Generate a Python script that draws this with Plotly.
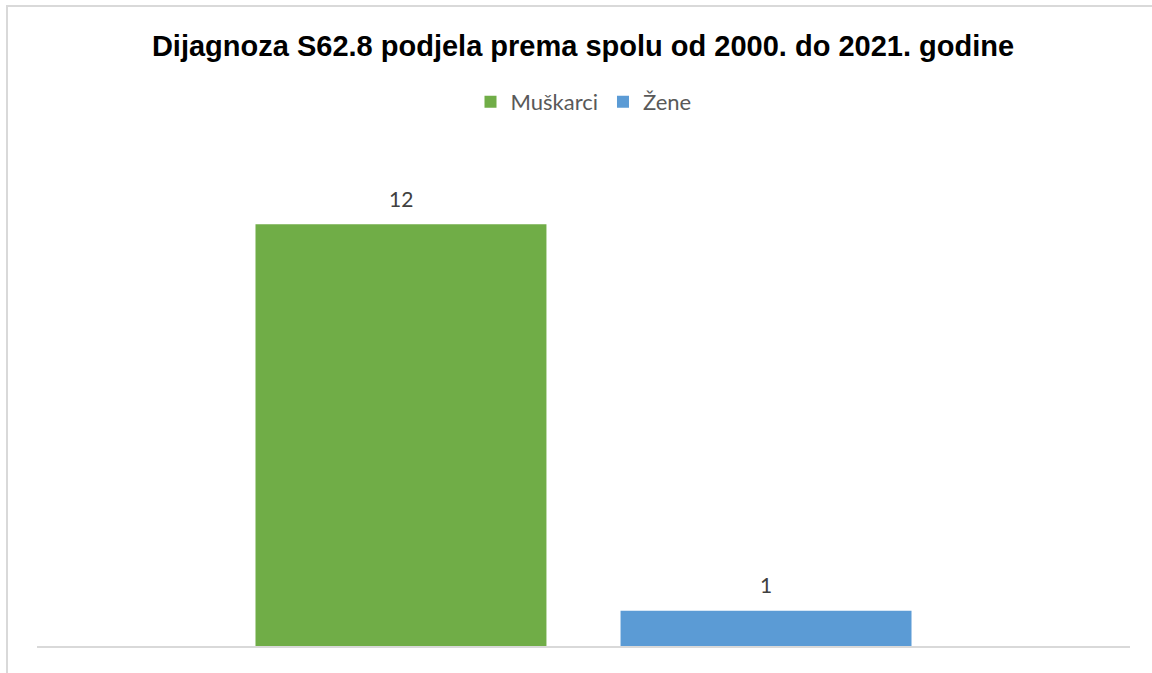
import plotly.graph_objects as go

categories = ["Ukupno"]
series_names = ["Muškarci", "Žene"]
muskarci = [12]
zene = [1]
colors = ["#70AD47", "#5B9BD5"]

LABEL_FONT = dict(family="Lato, Carlito, Calibri, sans-serif", size=21, color="#404040")

fig = go.Figure()
for name, vals, col in zip(series_names, [muskarci, zene], colors):
    fig.add_trace(go.Bar(
        x=categories, y=vals, name=name, marker_color=col, marker_line_width=0,
    ))

# data labels above each bar (bar centres are half a slot left/right of the category centre)
slot_px = 182.5
for i, vals in enumerate([muskarci, zene]):
    for c, v in zip(categories, vals):
        fig.add_annotation(x=c, y=v, text=str(v), showarrow=False,
                           xshift=(-1 if i == 0 else 1) * slot_px, yshift=26,
                           yanchor="middle", font=LABEL_FONT)

fig.update_layout(
    width=1152, height=673,
    paper_bgcolor="white", plot_bgcolor="white",
    margin=dict(l=37, r=22, t=154, b=27),
    barmode="group", bargap=0.332, bargroupgap=0.203,
    title=dict(
        text="<b>Dijagnoza S62.8 podjela prema spolu od 2000. do 2021. godine</b>",
        x=583/1152, xanchor="center", y=1-46/673, yanchor="middle", yref="container",
        font=dict(family="Liberation Sans, Arial, sans-serif", size=29, color="black"),
    ),
    legend=dict(
        orientation="h", x=0.5, xanchor="center", y=(646-102)/492, yanchor="middle",
        font=dict(family="Lato, Carlito, Calibri, sans-serif", size=22, color="#595959"),
        traceorder="normal",
    ),
    showlegend=True,
    hovermode=False,
    xaxis=dict(showticklabels=False, showgrid=False, zeroline=False,
               showline=True, linecolor="#D9D9D9", linewidth=2, ticks=""),
    yaxis=dict(range=[0, 14], visible=False),
    shapes=[dict(type="rect", xref="paper", yref="paper",
                 x0=(7-37)/1093, x1=1.2, y0=-0.2, y1=(646-6)/492,
                 line=dict(color="#D9D9D9", width=2), fillcolor="rgba(0,0,0,0)", layer="below")],
)

fig.write_html("out.html", config={"displayModeBar": False},
               post_script="document.body.style.margin='0';")
